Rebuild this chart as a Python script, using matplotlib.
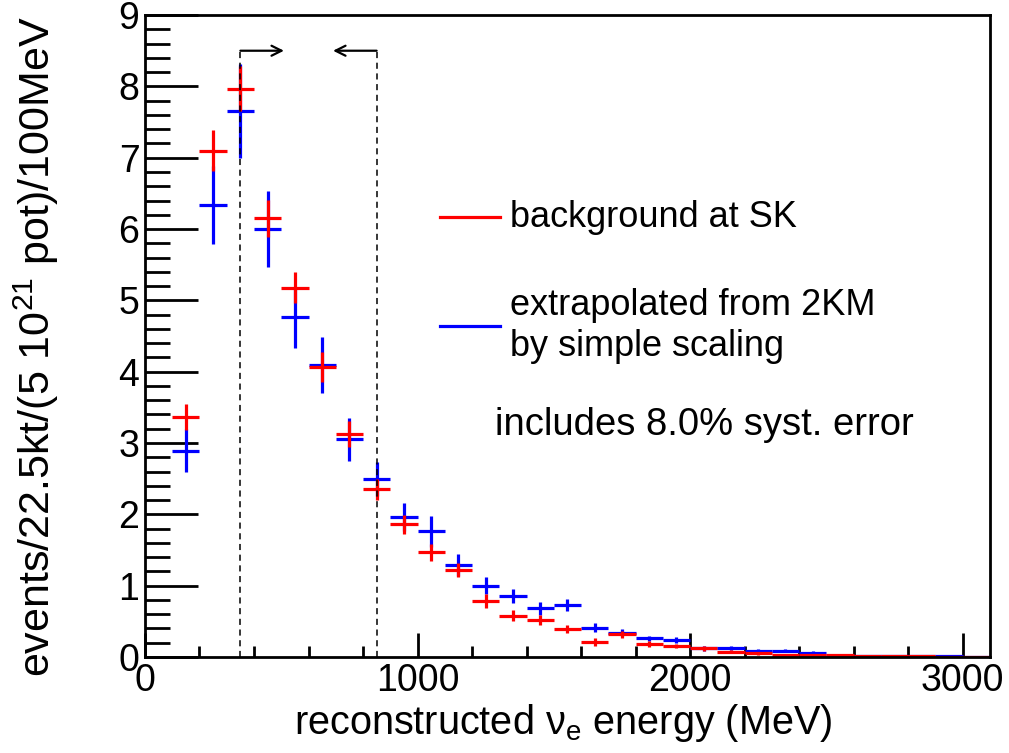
import matplotlib
matplotlib.use("Agg")
import matplotlib.pyplot as plt
import numpy as np

plt.rcParams['font.family'] = ['Liberation Sans', 'DejaVu Sans']

# bin centres (MeV), 100 MeV bins
energia = np.arange(150, 3100, 100)

fondo_sk = [3.36, 7.10, 7.97, 6.15, 5.18, 4.06, 3.13, 2.35, 1.86, 1.47,
            1.22, 0.79, 0.58, 0.52, 0.39, 0.21, 0.32, 0.18, 0.15, 0.12,
            0.075, 0.05, 0.025, 0.025, 0.025, 0.01, 0.01, 0.01, 0.005, 0.0]
err_sk = [0.18, 0.29, 0.31, 0.26, 0.22, 0.21, 0.18, 0.15, 0.13, 0.12,
          0.10, 0.10, 0.08, 0.07, 0.06, 0.05, 0.05, 0.04, 0.03, 0.03,
          0.02, 0.02, 0.01, 0.01, 0.01, 0.01, 0.01, 0.01, 0.005, 0.0]

extrap_2km = [2.89, 6.34, 7.66, 6.00, 4.76, 4.09, 3.05, 2.50, 1.96, 1.76,
              1.29, 1.00, 0.86, 0.68, 0.73, 0.41, 0.34, 0.26, 0.24, 0.12,
              0.13, 0.09, 0.09, 0.06, 0.02, 0.01, 0.02, 0.01, 0.02, 0.0]
err_2km = [0.30, 0.55, 0.66, 0.53, 0.43, 0.39, 0.30, 0.24, 0.20, 0.22,
           0.16, 0.12, 0.10, 0.09, 0.08, 0.06, 0.05, 0.04, 0.04, 0.03,
           0.03, 0.02, 0.02, 0.02, 0.01, 0.01, 0.01, 0.01, 0.01, 0.0]

ventana = [350, 850]
altura_flecha = 8.5

fig = plt.figure(figsize=(10.09, 7.53), dpi=100)
ax = fig.add_axes([0.1437, 0.1275, 0.8373, 0.8525])

lw = 2.3
ax.errorbar(energia, extrap_2km, xerr=50, yerr=err_2km, fmt='none',
            ecolor='#0000ff', elinewidth=lw, capsize=0)
ax.errorbar(energia, fondo_sk, xerr=50, yerr=err_sk, fmt='none',
            ecolor='#ff0000', elinewidth=lw, capsize=0)

# ventana de la senal
for xv in ventana:
    ax.plot([xv, xv], [0, altura_flecha], color='black', lw=1.1,
            ls=(0, (4, 3)))
ax.annotate('', xy=(ventana[0] + 160, altura_flecha), xytext=(ventana[0], altura_flecha),
            arrowprops=dict(arrowstyle='->', lw=1.6, color='black',
                            shrinkA=0, shrinkB=0, mutation_scale=18))
ax.annotate('', xy=(ventana[1] - 160, altura_flecha), xytext=(ventana[1], altura_flecha),
            arrowprops=dict(arrowstyle='->', lw=1.6, color='black',
                            shrinkA=0, shrinkB=0, mutation_scale=18))

ax.set_xlim(0, 3100)
ax.set_ylim(0, 9)
ax.set_xticks([0, 1000, 2000, 3000])
ax.set_xticks(np.arange(0, 3100, 200), minor=True)
ax.set_yticks(range(0, 10))
ax.set_yticks(np.arange(0, 9.01, 0.2), minor=True)
ax.tick_params(axis='both', which='both', direction='in', top=False, right=False,
               labelsize=27, width=2, pad=4)
ax.tick_params(axis='x', which='major', length=17)
ax.tick_params(axis='x', which='minor', length=8)
ax.tick_params(axis='y', which='major', length=38)
ax.tick_params(axis='y', which='minor', length=18)
for s in ax.spines.values():
    s.set_linewidth(2)

ax.set_xlabel(r'reconstructed $\mathregular{\nu_e}$ energy (MeV)', fontsize=28.5)
ax.xaxis.set_label_coords(0.495, -0.07)
ax.set_ylabel(r'events/22.5kt/(5 $\mathregular{10^{21}}$ pot)/100MeV', fontsize=31)
ax.yaxis.set_label_coords(-0.1, 0.484)

# leyenda
tr = ax.transAxes
ax.plot([0.349, 0.42], [0.685, 0.685], color='#ff0000', lw=lw, transform=tr)
ax.plot([0.349, 0.42], [0.516, 0.516], color='#0000ff', lw=lw, transform=tr)
ax.text(0.432, 0.685, 'background at SK', transform=tr, fontsize=26, va='center')
ax.text(0.432, 0.547, 'extrapolated from 2KM', transform=tr, fontsize=26, va='center')
ax.text(0.432, 0.483, 'by simple scaling', transform=tr, fontsize=26, va='center')
ax.text(0.414, 0.361, 'includes 8.0% syst. error', transform=tr, fontsize=27.5, va='center')

fig.savefig('out.png', dpi=100)
